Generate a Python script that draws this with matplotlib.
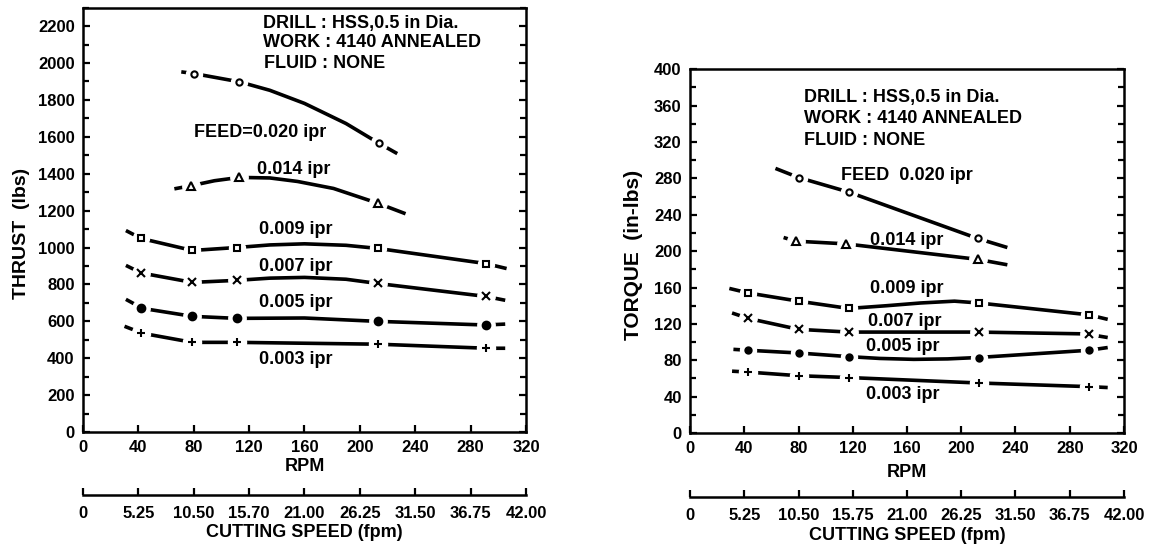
import matplotlib
matplotlib.use('Agg')
import matplotlib.pyplot as plt

plt.rcParams['font.family'] = ['Liberation Sans', 'DejaVu Sans']
plt.rcParams['font.size'] = 12.5
plt.rcParams['font.weight'] = 'bold'

# Thrust panel - marker points (rpm, lbs)
thr_rpm = [42, 79, 111, 213, 291]
thr_020_rpm = [80, 113, 214]
thr_020 = [1943, 1898, 1564]
thr_014_rpm = [78, 113, 213]
thr_014 = [1335, 1380, 1240]
thr_009 = [1049, 984, 1000, 995, 913]
thr_007 = [862, 811, 822, 805, 735]
thr_005 = [670, 627, 616, 600, 580]
thr_003 = [535, 486, 486, 476, 454]

# Thrust panel - drawn curves
thr_020_cx = [71, 80, 113, 135, 160, 190, 214, 227]
thr_020_cy = [1952, 1943, 1898, 1852, 1781, 1672, 1564, 1509]
thr_014_cx = [66, 78, 95, 113, 135, 155, 181, 213, 233]
thr_014_cy = [1318, 1335, 1362, 1380, 1377, 1358, 1320, 1240, 1183]
thr_009_cx = [31, 42, 79, 111, 135, 160, 190, 213, 291, 306]
thr_009_cy = [1092, 1049, 984, 1000, 1014, 1020, 1012, 995, 913, 886]
thr_007_cx = [31, 42, 79, 111, 135, 160, 190, 213, 291, 305]
thr_007_cy = [903, 862, 811, 822, 834, 838, 828, 805, 735, 714]
thr_005_cx = [31, 43, 79, 111, 160, 212, 291, 305]
thr_005_cy = [719, 670, 627, 616, 618, 600, 580, 585]
thr_003_cx = [30, 43, 79, 111, 213, 292, 305]
thr_003_cy = [573, 535, 486, 486, 476, 454, 454]

# Torque panel - marker points (rpm, in-lbs)
tq_rpm = [43, 80, 117, 213, 294]
tq_020_rpm = [80, 117, 212]
tq_020 = [281, 265, 214]
tq_014_rpm = [78, 115, 212]
tq_014 = [211, 208, 191]
tq_009 = [154, 145, 137, 143, 130]
tq_007 = [126, 114, 111, 111, 109]
tq_005 = [91, 88, 84, 83, 91]
tq_003 = [67, 63, 61, 55, 51]

# Torque panel - drawn curves
tq_020_cx = [63, 80, 117, 212, 234]
tq_020_cy = [291, 281, 265, 214, 204]
tq_014_cx = [69, 78, 115, 212, 234]
tq_014_cy = [215, 211, 208, 191, 185]
tq_009_cx = [29, 43, 80, 117, 145, 170, 195, 213, 294, 308]
tq_009_cy = [159, 154, 145, 137, 140, 143, 145, 143, 130, 125]
tq_007_cx = [31, 43, 80, 117, 165, 212, 292, 308]
tq_007_cy = [132, 126, 114, 111, 111, 111, 109, 105]
tq_005_cx = [32, 43, 80, 117, 140, 165, 190, 212, 294, 308]
tq_005_cy = [92, 91, 88, 84, 82, 81, 81.5, 83, 91, 94]
tq_003_cx = [31, 43, 80, 117, 213, 294, 308]
tq_003_cy = [68, 67, 63, 61, 55, 51, 50]

rpm_ticks = [0, 40, 80, 120, 160, 200, 240, 280, 320]
speed_left = ['0', '5.25', '10.50', '15.70', '21.00', '26.25', '31.50', '36.75', '42.00']
speed_right = ['0', '5.25', '10.50', '15.75', '21.00', '26.25', '31.50', '36.75', '42.00']

fig = plt.figure(figsize=(11.56, 5.47), dpi=100)

TXT = 13
TICK = 12


def draw_series(ax, cx, cy, mx, my, marker, ms, filled):
    ax.plot(cx, cy, color='black', lw=2.6, solid_capstyle='butt',
            solid_joinstyle='round', zorder=2)
    ax.plot(mx, my, ls='none', marker='o', ms=ms + 7, color='white', zorder=3)
    face = 'black' if filled else 'white'
    ax.plot(mx, my, ls='none', marker=marker, ms=ms, mfc=face, mec='black',
            mew=1.5, zorder=4)


def bold_ticks(ax):
    for lab in ax.get_xticklabels() + ax.get_yticklabels():
        lab.set_fontweight('bold')


def setup_axes(ax, ymax, major, minor):
    ax.set_xlim(0, 320)
    ax.set_ylim(0, ymax)
    ax.set_xticks(rpm_ticks)
    ax.set_yticks(range(0, ymax + 1, major))
    ax.set_yticks(range(0, ymax + 1, minor), minor=True)
    for s in ax.spines.values():
        s.set_linewidth(1.8)
    ax.tick_params(axis='both', which='both', direction='in', width=1.6,
                   top=False, right=True, pad=6, labelsize=TICK)
    ax.tick_params(axis='y', which='major', length=5)
    ax.tick_params(axis='y', which='minor', length=4)
    ax.tick_params(axis='x', length=5, pad=6)
    bold_ticks(ax)


def speed_axis(rect, labels):
    sa = fig.add_axes(rect)
    sa.set_xlim(0, 320)
    sa.set_ylim(0, 1)
    for k in ['top', 'left', 'right']:
        sa.spines[k].set_visible(False)
    sa.spines['bottom'].set_linewidth(1.8)
    sa.set_yticks([])
    sa.set_xticks(rpm_ticks)
    sa.set_xticklabels(labels)
    sa.tick_params(axis='x', direction='in', length=5, width=1.6, pad=8,
                   labelsize=TICK)
    bold_ticks(sa)
    sa.patch.set_alpha(0)
    return sa


# ---------------- Thrust ----------------
ax1 = fig.add_axes([0.0718, 0.2102, 0.3832, 0.7758])
setup_axes(ax1, 2300, 200, 100)
draw_series(ax1, thr_020_cx, thr_020_cy, thr_020_rpm, thr_020, 'o', 4.5, False)
draw_series(ax1, thr_014_cx, thr_014_cy, thr_014_rpm, thr_014, '^', 5.5, False)
draw_series(ax1, thr_009_cx, thr_009_cy, thr_rpm, thr_009, 's', 4.5, False)
draw_series(ax1, thr_007_cx, thr_007_cy, thr_rpm, thr_007, 'x', 5.5, False)
draw_series(ax1, thr_005_cx, thr_005_cy, thr_rpm, thr_005, 'o', 5.5, True)
draw_series(ax1, thr_003_cx, thr_003_cy, thr_rpm, thr_003, '+', 6, False)

ax1.text(130, 2212, 'DRILL : HSS,0.5 in Dia.', va='center', fontsize=TXT)
ax1.text(130, 2109, 'WORK : 4140 ANNEALED', va='center', fontsize=TXT)
ax1.text(131, 1995, 'FLUID : NONE', va='center', fontsize=TXT)
ax1.text(80, 1625, 'FEED=0.020 ipr', va='center', fontsize=TXT)
ax1.text(126, 1424, '0.014 ipr', va='center', fontsize=TXT)
ax1.text(127, 1098, '0.009 ipr', va='center', fontsize=TXT)
ax1.text(127, 897, '0.007 ipr', va='center', fontsize=TXT)
ax1.text(127, 701, '0.005 ipr', va='center', fontsize=TXT)
ax1.text(127, 391, '0.003 ipr', va='center', fontsize=TXT)

speed_axis([0.0718, 0.0951, 0.3832, 0.02], speed_left)
fig.text(0.2635, 0.1463, 'RPM', ha='center', va='center', fontsize=TXT)
fig.text(0.2635, 0.0256, 'CUTTING SPEED (fpm)', ha='center', va='center', fontsize=TXT)
fig.text(0.019, 0.574, 'THRUST  (lbs)', rotation=90, ha='center', va='center', fontsize=14)

# ---------------- Torque ----------------
ax2 = fig.add_axes([0.5969, 0.2084, 0.3754, 0.6649])
setup_axes(ax2, 400, 40, 20)
draw_series(ax2, tq_020_cx, tq_020_cy, tq_020_rpm, tq_020, 'o', 4.5, False)
draw_series(ax2, tq_014_cx, tq_014_cy, tq_014_rpm, tq_014, '^', 5.5, False)
draw_series(ax2, tq_009_cx, tq_009_cy, tq_rpm, tq_009, 's', 4.5, False)
draw_series(ax2, tq_007_cx, tq_007_cy, tq_rpm, tq_007, 'x', 5.5, False)
draw_series(ax2, tq_005_cx, tq_005_cy, tq_rpm, tq_005, 'o', 4.5, True)
draw_series(ax2, tq_003_cx, tq_003_cy, tq_rpm, tq_003, '+', 6, False)

ax2.text(84, 369, 'DRILL : HSS,0.5 in Dia.', va='center', fontsize=TXT)
ax2.text(84, 346, 'WORK : 4140 ANNEALED', va='center', fontsize=TXT)
ax2.text(84, 322, 'FLUID : NONE', va='center', fontsize=TXT)
ax2.text(111, 283, 'FEED  0.020 ipr', va='center', fontsize=TXT)
ax2.text(133, 212, '0.014 ipr', va='center', fontsize=TXT)
ax2.text(133, 159, '0.009 ipr', va='center', fontsize=TXT)
ax2.text(131, 123, '0.007 ipr', va='center', fontsize=TXT)
ax2.text(130, 95, '0.005 ipr', va='center', fontsize=TXT)
ax2.text(130, 42, '0.003 ipr', va='center', fontsize=TXT)

speed_axis([0.5969, 0.0914, 0.3754, 0.02], speed_right)
fig.text(0.7846, 0.1371, 'RPM', ha='center', va='center', fontsize=TXT)
fig.text(0.7846, 0.0219, 'CUTTING SPEED (fpm)', ha='center', va='center', fontsize=TXT)
fig.text(0.5476, 0.534, 'TORQUE  (in-lbs)', rotation=90, ha='center', va='center', fontsize=15)

fig.savefig('out.png', dpi=100)
